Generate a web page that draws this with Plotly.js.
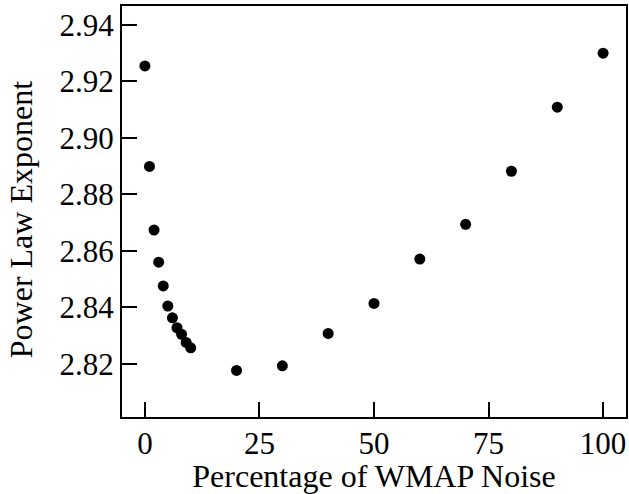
<!DOCTYPE html>
<html>
<head>
<meta charset="utf-8">
<script src="https://cdn.plot.ly/plotly-3.0.1.min.js"></script>
<style>html,body{margin:0;padding:0;background:#fff;}#chart{width:629px;height:494px;}</style>
</head>
<body>
<div id="chart"></div>
<script>
const noisePercent = [0, 1, 2, 3, 4, 5, 6, 7, 8, 9, 10, 20, 30, 40, 50, 60, 70, 80, 90, 100];
const exponent = [2.9255, 2.8899, 2.8674, 2.8560, 2.8476, 2.8405, 2.8363, 2.8328, 2.8305, 2.8276, 2.8257, 2.8177, 2.8193, 2.8308, 2.8414, 2.8571, 2.8694, 2.8882, 2.9109, 2.9300];
const xTicks = [0, 25, 50, 75, 100];
const yTicks = [2.82, 2.84, 2.86, 2.88, 2.90, 2.92, 2.94];
const xTitle = 'Percentage of WMAP Noise';
const yTitle = 'Power Law Exponent';

const fam = 'Liberation Serif, Times New Roman, serif';
const tickFont = {family: fam, size: 31, color: '#000'};
const titleFont = {family: fam, size: 32, color: '#000'};

Plotly.newPlot('chart', [{
  x: noisePercent, y: exponent, mode: 'markers', type: 'scatter',
  marker: {color: '#000', size: 11}
}], {
  width: 629, height: 494,
  margin: {l: 122, r: 3, t: 6, b: 77},
  paper_bgcolor: '#fff', plot_bgcolor: '#fff',
  font: tickFont,
  showlegend: false,
  xaxis: {
    range: [-5, 105], tickvals: xTicks, ticktext: xTicks.map(String),
    ticks: 'inside', ticklen: 15, tickwidth: 2, tickcolor: '#000',
    showline: true, linewidth: 2, linecolor: '#000', mirror: true,
    showgrid: false, zeroline: false,
    tickfont: tickFont, ticklabelstandoff: -2,
    title: {text: xTitle, font: titleFont, standoff: 4}
  },
  yaxis: {
    range: [2.8012, 2.9467], tickvals: yTicks, ticktext: yTicks.map(v => v.toFixed(2)),
    ticks: 'inside', ticklen: 15, tickwidth: 2, tickcolor: '#000',
    showline: true, linewidth: 2, linecolor: '#000', mirror: true,
    showgrid: false, zeroline: false,
    tickfont: tickFont
  },
  annotations: [{
    text: yTitle, font: titleFont, textangle: -90, showarrow: false,
    xref: 'paper', yref: 'paper', x: -0.201, y: 0.4805,
    xanchor: 'center', yanchor: 'middle'
  }]
}, {displayModeBar: false, staticPlot: true});
</script>
</body>
</html>
